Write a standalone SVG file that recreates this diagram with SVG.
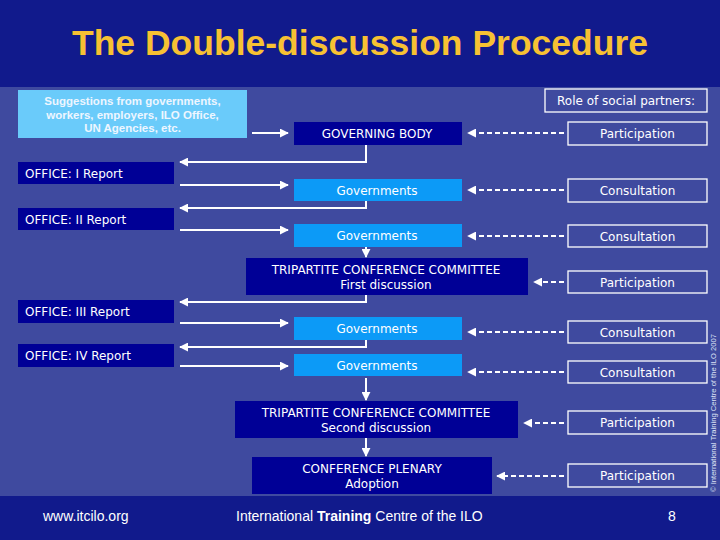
<svg xmlns="http://www.w3.org/2000/svg" width="720" height="540" viewBox="0 0 720 540">
<style>
.band{fill:#111A8C}
.bg{fill:#3F4A9F}
.dark{fill:#000096}
.gov{fill:#0C9AF7}
.light{fill:#6ACBFA}
.role{fill:none;stroke:#FFFFFF;stroke-width:1.3}
.t{font-family:"DejaVu Sans",Verdana,sans-serif;font-size:12px;fill:#FFFFFF}
.tm{text-anchor:middle}
.sug{font-family:"Liberation Sans",Arial,sans-serif;font-size:11.5px;font-weight:bold;fill:#EEF6FF;text-anchor:middle}
.title{font-family:"Liberation Sans",Arial,sans-serif;font-size:35.5px;font-weight:bold;fill:#F7C133;text-anchor:middle}
.foot{font-family:"Liberation Sans",Arial,sans-serif;font-size:14px;fill:#FFFFFF}
.solid{fill:none;stroke:#FFFFFF;stroke-width:2}
.dash{fill:none;stroke:#FFFFFF;stroke-width:2;stroke-dasharray:5 3}
</style>
<defs>
<marker id="ah" viewBox="0 0 10 10" refX="9" refY="5" markerWidth="4.5" markerHeight="4.5" orient="auto" markerUnits="strokeWidth">
<path d="M0,0 L10,5 L0,10 z" fill="#FFFFFF"/>
</marker>
</defs>
<rect class="band" x="0" y="0" width="720" height="87"/>
<rect class="bg" x="0" y="87" width="720" height="409"/>
<rect class="band" x="0" y="496" width="720" height="44"/>
<text class="title" x="360" y="55">The Double-discussion Procedure</text>

<g id="suggestions">
<rect class="light" x="18" y="90" width="229" height="48"/>
<text class="sug" x="132.5" y="105">Suggestions from governments,</text>
<text class="sug" x="132.5" y="118.5">workers, employers, ILO Office,</text>
<text class="sug" x="132.5" y="132">UN Agencies, etc.</text>
</g>
<g id="governing-body">
<rect class="dark" x="294" y="122" width="168" height="23"/>
<text class="t tm" x="377" y="138">GOVERNING BODY</text>
</g>
<g id="office-1">
<rect class="dark" x="18" y="162" width="156" height="22"/>
<text class="t" x="25" y="177.5">OFFICE: I Report</text>
</g>
<g id="governments-1">
<rect class="gov" x="294" y="179" width="168" height="22"/>
<text class="t tm" x="377" y="194.5">Governments</text>
</g>
<g id="office-2">
<rect class="dark" x="18" y="208" width="156" height="22"/>
<text class="t" x="25" y="223.5">OFFICE: II Report</text>
</g>
<g id="governments-2">
<rect class="gov" x="294" y="224" width="168" height="23"/>
<text class="t tm" x="377" y="240">Governments</text>
</g>
<g id="tripartite-1">
<rect class="dark" x="246" y="258" width="282" height="37"/>
<text class="t tm" x="386" y="274">TRIPARTITE CONFERENCE COMMITTEE</text>
<text class="t tm" x="386" y="288.5">First discussion</text>
</g>
<g id="office-3">
<rect class="dark" x="18" y="300" width="156" height="23"/>
<text class="t" x="25" y="316">OFFICE: III Report</text>
</g>
<g id="governments-3">
<rect class="gov" x="294" y="317" width="168" height="23"/>
<text class="t tm" x="377" y="333">Governments</text>
</g>
<g id="office-4">
<rect class="dark" x="18" y="344" width="156" height="23"/>
<text class="t" x="25" y="360">OFFICE: IV Report</text>
</g>
<g id="governments-4">
<rect class="gov" x="294" y="354" width="168" height="22"/>
<text class="t tm" x="377" y="369.5">Governments</text>
</g>
<g id="tripartite-2">
<rect class="dark" x="235" y="401" width="283" height="37"/>
<text class="t tm" x="376" y="417">TRIPARTITE CONFERENCE COMMITTEE</text>
<text class="t tm" x="376" y="431.5">Second discussion</text>
</g>
<g id="plenary">
<rect class="dark" x="252" y="457" width="240" height="37"/>
<text class="t tm" x="372" y="473">CONFERENCE PLENARY</text>
<text class="t tm" x="372" y="487.5">Adoption</text>
</g>

<g id="role-header">
<rect class="role" x="545" y="89" width="162" height="23"/>
<text class="t tm" x="626" y="105">Role of social partners:</text>
</g>
<g id="role-1">
<rect class="role" x="568" y="122" width="139" height="23"/>
<text class="t tm" x="637.5" y="138">Participation</text>
</g>
<g id="role-2">
<rect class="role" x="568" y="179" width="139" height="23"/>
<text class="t tm" x="637.5" y="195">Consultation</text>
</g>
<g id="role-3">
<rect class="role" x="568" y="225" width="139" height="22"/>
<text class="t tm" x="637.5" y="240.5">Consultation</text>
</g>
<g id="role-4">
<rect class="role" x="568" y="271" width="139" height="22"/>
<text class="t tm" x="637.5" y="286.5">Participation</text>
</g>
<g id="role-5">
<rect class="role" x="568" y="321" width="139" height="22"/>
<text class="t tm" x="637.5" y="336.5">Consultation</text>
</g>
<g id="role-6">
<rect class="role" x="568" y="361" width="139" height="22"/>
<text class="t tm" x="637.5" y="376.5">Consultation</text>
</g>
<g id="role-7">
<rect class="role" x="568" y="411" width="139" height="23"/>
<text class="t tm" x="637.5" y="427">Participation</text>
</g>
<g id="role-8">
<rect class="role" x="568" y="464" width="139" height="23"/>
<text class="t tm" x="637.5" y="480">Participation</text>
</g>

<g id="connectors">
<path class="solid" d="M252,133 H288" marker-end="url(#ah)"/>
<path class="solid" d="M366,145 V162 H180" marker-end="url(#ah)"/>
<path class="solid" d="M180,185 H288" marker-end="url(#ah)"/>
<path class="solid" d="M366,201 V208 H180" marker-end="url(#ah)"/>
<path class="solid" d="M180,230 H288" marker-end="url(#ah)"/>
<path class="solid" d="M366,247 V257" marker-end="url(#ah)"/>
<path class="solid" d="M366,295 V302 H180" marker-end="url(#ah)"/>
<path class="solid" d="M180,323 H288" marker-end="url(#ah)"/>
<path class="solid" d="M366,340 V347 H180" marker-end="url(#ah)"/>
<path class="solid" d="M180,366 H288" marker-end="url(#ah)"/>
<path class="solid" d="M366,378 V400" marker-end="url(#ah)"/>
<path class="solid" d="M366,438 V456" marker-end="url(#ah)"/>
<path class="dash" d="M564,133 H468" marker-end="url(#ah)"/>
<path class="dash" d="M564,190 H468" marker-end="url(#ah)"/>
<path class="dash" d="M564,236 H468" marker-end="url(#ah)"/>
<path class="dash" d="M564,282 H534" marker-end="url(#ah)"/>
<path class="dash" d="M564,332 H468" marker-end="url(#ah)"/>
<path class="dash" d="M564,372 H468" marker-end="url(#ah)"/>
<path class="dash" d="M564,423 H524" marker-end="url(#ah)"/>
<path class="dash" d="M564,476 H497" marker-end="url(#ah)"/>
</g>

<text font-family="Liberation Sans, Arial, sans-serif" font-size="6.5" fill="#DDE2F5" text-anchor="middle" transform="translate(715.5,413) rotate(-90)" textLength="158" lengthAdjust="spacingAndGlyphs">© International Training Centre of the ILO 2007</text>
<text class="foot" x="43" y="521">www.itcilo.org</text>
<text class="foot" x="236" y="521">International <tspan font-weight="bold">Training</tspan> Centre of the ILO</text>
<text class="foot" x="668" y="521">8</text>
</svg>
